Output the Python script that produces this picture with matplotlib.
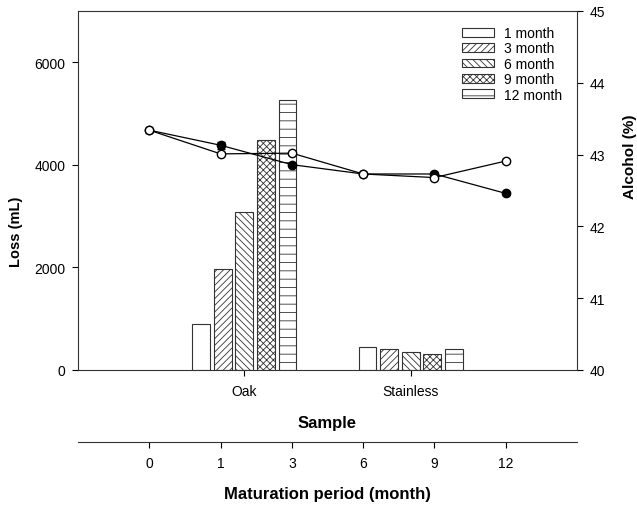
import numpy as np
import matplotlib
matplotlib.use('Agg')
import matplotlib.pyplot as plt

plt.rcParams['font.family'] = ['Liberation Sans', 'DejaVu Sans']
plt.rcParams['hatch.linewidth'] = 0.6
plt.rcParams['hatch.color'] = '#333333'

# loss data (bars)
samples = ['Oak', 'Stainless']
months = ['1 month', '3 month', '6 month', '9 month', '12 month']
loss_oak = [900, 1960, 3090, 4480, 5260]
loss_stainless = [450, 400, 345, 305, 400]
hatches = ['', '/////', '\\\\\\\\\\', 'xxxxx', '--']

# alcohol data (lines)
period_labels = ['0', '1', '3', '6', '9', '12']
alcohol_filled = [43.34, 43.13, 42.86, 42.73, 42.73, 42.46]
alcohol_filled_err = [0.02, 0.05, 0.02, 0.01, 0.03, 0.02]
alcohol_open = [43.34, 43.01, 43.02, 42.73, 42.68, 42.91]
alcohol_open_err = [0.02, 0.02, 0.02, 0.01, 0.02, 0.03]

fig = plt.figure(figsize=(6.37, 5.06), dpi=100)
rect = [0.1225, 0.2668, 0.7833, 0.7095]
ax = fig.add_axes(rect)

step = 0.13
width = 0.107
xpos = np.arange(len(samples))
for i, m in enumerate(months):
    vals = [loss_oak[i], loss_stainless[i]]
    ax.bar(xpos + (i - 2) * step, vals, width, facecolor='white', edgecolor='#333333',
           linewidth=0.8, hatch=hatches[i], label=m)

ax.set_xlim(-1, 2)
ax.set_ylim(0, 7000)
ax.set_xticks(xpos)
ax.set_xticklabels(samples)
ax.set_yticks([0, 2000, 4000, 6000])
ax.tick_params(axis='both', direction='out', length=4, width=0.8, labelsize=10, pad=5)
ax.tick_params(axis='x', pad=6)
ax.set_xlabel('Sample', fontsize=12, fontweight='bold', labelpad=12)
ax.set_ylabel('Loss (mL)', fontsize=10.5, fontweight='bold')
ax.yaxis.set_label_coords(-0.110, 0.387)
for s in ax.spines.values():
    s.set_linewidth(0.8)
    s.set_color('#333333')
ax.spines['right'].set_visible(False)

leg = ax.legend(loc='upper right', bbox_to_anchor=(0.99, 0.985), frameon=False,
                fontsize=10, handlelength=2.3, handleheight=0.6, labelspacing=0.1,
                handletextpad=0.7, borderaxespad=0.3)

# overlay axes for alcohol
ax2 = fig.add_axes(rect)
ax2.patch.set_visible(False)
px = np.arange(len(period_labels))
ax2.errorbar(px, alcohol_filled, yerr=alcohol_filled_err, color='black', marker='o',
             markersize=6, markerfacecolor='black', markeredgecolor='black',
             linewidth=0.9, capsize=3, elinewidth=0.8, zorder=3)
ax2.errorbar(px, alcohol_open, yerr=alcohol_open_err, color='black', marker='o',
             markersize=6, markerfacecolor='white', markeredgecolor='black',
             linewidth=0.9, capsize=3, elinewidth=0.8, zorder=4)
ax2.set_xlim(-1, 6)
ax2.set_ylim(40, 45)
ax2.yaxis.tick_right()
ax2.yaxis.set_label_position('right')
ax2.set_ylabel('Alcohol (%)', fontsize=11, fontweight='bold')
ax2.yaxis.set_label_coords(1.092, 0.596)
ax2.set_xticks(px)
ax2.set_xticklabels(period_labels)
ax2.set_xlabel('Maturation period (month)', fontsize=12, fontweight='bold', labelpad=12)
ax2.spines['left'].set_visible(False)
ax2.spines['top'].set_visible(False)
ax2.spines['bottom'].set_position(('outward', 51.8))
for s in ax2.spines.values():
    s.set_linewidth(0.8)
    s.set_color('#333333')
ax2.tick_params(axis='both', direction='out', length=4, width=0.8, labelsize=10, pad=5)
ax2.tick_params(axis='x', pad=6)

fig.savefig('out.png', dpi=100)
